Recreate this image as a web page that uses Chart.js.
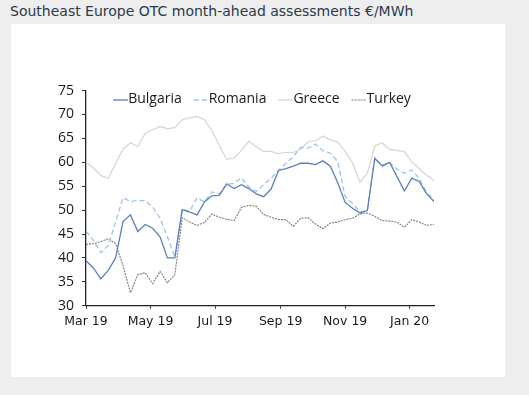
<!DOCTYPE html>
<html>
<head>
<meta charset="utf-8">
<script src="https://cdn.jsdelivr.net/npm/chart.js@4"></script>
<style>
  html, body { margin: 0; padding: 0; background: #eeeeee; }
  #wrap { position: relative; width: 529px; height: 395px; }
  #title { position: absolute; left: 10px; top: 3px; font: 14px "DejaVu Sans", sans-serif; color: #2b3a4a; white-space: nowrap; }
  #panel { position: absolute; left: 11px; top: 24px; width: 494px; height: 353px; background: #fff; }
  #c { position: absolute; left: 0; top: 0; }
</style>
</head>
<body>
<div id="wrap">
  <div id="title">Southeast Europe OTC month-ahead assessments €/MWh</div>
  <div id="panel"></div>
  <canvas id="c" width="529" height="395"></canvas>
</div>
<script>
// weekly assessment dates
const weeks = [
  '2019-03-01','2019-03-08','2019-03-15','2019-03-22','2019-03-29',
  '2019-04-05','2019-04-12','2019-04-19','2019-04-26',
  '2019-05-03','2019-05-10','2019-05-17','2019-05-24','2019-05-31',
  '2019-06-07','2019-06-14','2019-06-21','2019-06-28',
  '2019-07-05','2019-07-12','2019-07-19','2019-07-26',
  '2019-08-02','2019-08-09','2019-08-16','2019-08-23','2019-08-30',
  '2019-09-06','2019-09-13','2019-09-20','2019-09-27',
  '2019-10-04','2019-10-11','2019-10-18','2019-10-25',
  '2019-11-01','2019-11-08','2019-11-15','2019-11-22','2019-11-29',
  '2019-12-06','2019-12-13','2019-12-20','2019-12-27',
  '2020-01-03','2020-01-10','2020-01-17','2020-01-24'
];

const bulgaria = [39.4,37.9,35.6,37.4,40.0,47.6,49.0,45.5,47.0,46.2,44.4,40.0,40.0,50.1,49.6,49.0,
  51.7,53.0,53.1,55.5,54.5,55.3,54.5,53.4,52.8,54.4,58.3,58.7,59.2,59.8,59.8,59.5,
  60.3,59.2,55.7,51.6,50.4,49.4,49.9,60.8,59.3,60.0,57.0,54.0,56.7,56.0,53.4,51.8];
const romania = [45.6,43.7,41.1,42.6,47.5,52.6,51.8,52.0,52.0,50.6,48.3,44.4,40.2,50.1,49.8,52.6,
  51.7,53.8,53.4,55.4,55.6,56.8,54.8,53.9,55.3,56.7,58.3,59.8,61.2,63.1,63.0,63.8,
  62.4,61.9,60.2,52.8,51.4,49.6,50.0,61.0,59.1,59.9,58.6,57.7,58.4,56.6,53.6,52.3];
const greece = [60.0,58.8,57.2,56.7,59.7,62.7,64.1,63.3,66.1,66.8,67.5,67.0,67.3,68.9,69.3,69.6,
  68.9,66.6,63.5,60.6,60.9,62.5,64.4,63.2,62.3,62.3,61.8,62.1,62.0,62.8,64.3,64.5,
  65.5,64.7,64.2,62.3,59.9,55.8,57.7,63.4,64.1,62.7,62.5,62.2,60.1,58.7,57.3,56.2];
const turkey = [42.8,43.0,43.4,44.0,43.0,38.4,32.7,36.5,36.9,34.6,37.2,34.8,36.5,48.4,47.5,46.8,
  47.4,49.2,48.5,48.1,47.8,50.6,51.0,50.8,49.1,48.5,48.0,48.0,46.6,48.3,48.4,47.1,
  46.1,47.3,47.5,48.0,48.3,49.2,49.4,48.7,47.8,47.7,47.5,46.4,48.0,47.5,46.8,47.0];

const tickDates = ['2019-03-01','2019-05-01','2019-07-01','2019-09-01','2019-11-01','2020-01-01'];
const tickLabels = ['Mar 19','May 19','Jul 19','Sep 19','Nov 19','Jan 20'];

const DAY = 86400000;
const t0 = Date.parse(weeks[0]);
const dayOf = d => (Date.parse(d) - t0) / DAY;
const pts = arr => arr.map((v, i) => ({ x: dayOf(weeks[i]), y: v }));

const series = [
  { label: 'Bulgaria', data: bulgaria, color: '#5a7fc2', dash: [], width: 1.3 },
  { label: 'Romania', data: romania, color: '#9fc2ea', dash: [5, 3], width: 1.3 },
  { label: 'Greece', data: greece, color: '#d4d4d4', dash: [], width: 1.2 },
  { label: 'Turkey', data: turkey, color: '#7c7c7c', dash: [2, 1], width: 1.1 }
];

// legend drawn inside the plot, sample line right next to the text
const inlineLegend = {
  id: 'inlineLegend',
  afterDraw(chart) {
    const ctx = chart.ctx;
    const area = chart.chartArea;
    ctx.save();
    ctx.font = '14px "Open Sans", sans-serif';
    ctx.textBaseline = 'middle';
    const sample = 15, gap = 12;
    let total = 0;
    series.forEach(s => { total += sample + ctx.measureText(s.label).width; });
    total += gap * (series.length - 1);
    let x = (area.left + area.right) / 2 - total / 2 + 2;
    const y = 99;
    series.forEach(s => {
      ctx.strokeStyle = s.color;
      ctx.lineWidth = s.width;
      ctx.setLineDash(s.dash);
      ctx.beginPath();
      ctx.moveTo(x, y + 1);
      ctx.lineTo(x + sample, y + 1);
      ctx.stroke();
      ctx.setLineDash([]);
      ctx.fillStyle = '#1a1a1a';
      ctx.fillText(s.label, x + sample, y);
      x += sample + ctx.measureText(s.label).width + gap;
    });
    ctx.restore();
  }
};

new Chart(document.getElementById('c'), {
  type: 'line',
  data: {
    datasets: series.map(s => ({
      label: s.label,
      data: pts(s.data),
      borderColor: s.color,
      borderWidth: s.width,
      borderDash: s.dash,
      pointRadius: 0,
      tension: 0,
      fill: false
    }))
  },
  options: {
    responsive: false,
    animation: false,
    layout: { padding: { top: 90.6, right: 95, bottom: 0, left: 0 } },
    plugins: { legend: { display: false }, tooltip: { enabled: false } },
    scales: {
      x: {
        type: 'linear',
        min: 0,
        max: dayOf(weeks[weeks.length - 1]),
        afterFit: s => { s.height = 395 - 305.7; },
        afterBuildTicks: s => { s.ticks = tickDates.map(d => ({ value: dayOf(d) })); },
        ticks: {
          autoSkip: false,
          maxRotation: 0,
          padding: 6,
          color: '#1a1a1a',
          font: { family: '"DejaVu Sans", sans-serif', size: 12.5 },
          callback: (v, i) => tickLabels[i]
        },
        grid: { drawOnChartArea: false, tickLength: 3, color: '#333' },
        border: { color: '#222', width: 1.3 }
      },
      y: {
        min: 30,
        max: 75,
        afterFit: s => { s.width = 86; },
        ticks: {
          stepSize: 5,
          padding: 8,
          color: '#1a1a1a',
          font: { family: '"Open Sans", sans-serif', size: 14 }
        },
        grid: { drawOnChartArea: false, tickLength: 4, color: '#333' },
        border: { color: '#222', width: 1.3 }
      }
    }
  },
  plugins: [inlineLegend]
});
</script>
</body>
</html>
